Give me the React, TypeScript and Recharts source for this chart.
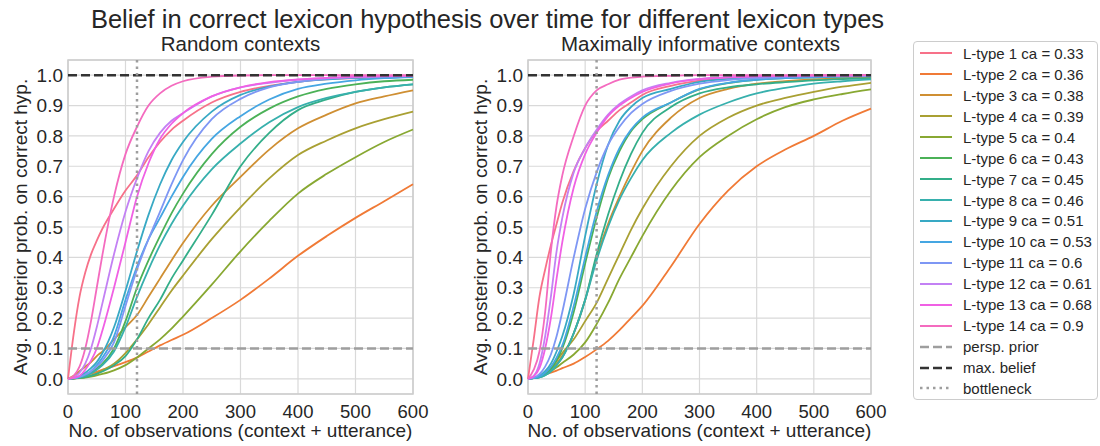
import React from "react";
import {
  LineChart, Line, XAxis, YAxis, CartesianGrid,
  ReferenceLine, ReferenceArea
} from "recharts";

const FONT = '"Liberation Sans", Arial, sans-serif';
const TEXT = "#262626";

// number of observations at which the curves were read
const obsCounts = [0, 10, 20, 30, 40, 50, 60, 80, 100, 120, 140, 160, 180, 200, 250, 300, 350, 400, 450, 500, 550, 600];
const xTicks = [0, 100, 200, 300, 400, 500, 600];
const yTicks = [0, 0.1, 0.2, 0.3, 0.4, 0.5, 0.6, 0.7, 0.8, 0.9, 1.0];

const caValues = ["0.33", "0.36", "0.38", "0.39", "0.4", "0.43", "0.45", "0.46", "0.51", "0.53", "0.6", "0.61", "0.68", "0.9"];
const lineColors = [
  "#f77189", "#f07a36", "#cf8f33", "#a9a033", "#88a832", "#4bb157", "#33ae89",
  "#37b0ad", "#38a9c4", "#45a6e2", "#7e97f4", "#c381f4", "#f060e4", "#f46bbf",
];

const randomCurves = [
  [0, 0.15, 0.27, 0.35, 0.41, 0.455, 0.495, 0.56, 0.62, 0.67, 0.73, 0.78, 0.82, 0.85, 0.91, 0.945, 0.965, 0.978, 0.986, 0.99, 0.993, 0.995],
  [0, 0.003, 0.007, 0.012, 0.017, 0.023, 0.03, 0.042, 0.055, 0.07, 0.09, 0.11, 0.128, 0.145, 0.2, 0.26, 0.33, 0.405, 0.47, 0.53, 0.585, 0.641],
  [0, 0.01, 0.025, 0.04, 0.055, 0.075, 0.09, 0.13, 0.17, 0.21, 0.27, 0.33, 0.39, 0.447, 0.57, 0.665, 0.755, 0.825, 0.87, 0.907, 0.93, 0.95],
  [0, 0.001, 0.003, 0.006, 0.011, 0.018, 0.028, 0.05, 0.085, 0.13, 0.18, 0.235, 0.29, 0.34, 0.46, 0.565, 0.66, 0.737, 0.785, 0.825, 0.855, 0.88],
  [0, 0.001, 0.002, 0.004, 0.007, 0.011, 0.016, 0.028, 0.045, 0.07, 0.1, 0.13, 0.165, 0.205, 0.31, 0.42, 0.52, 0.61, 0.675, 0.73, 0.78, 0.821],
  [0, 0.002, 0.006, 0.012, 0.022, 0.035, 0.05, 0.1, 0.19, 0.3, 0.39, 0.47, 0.545, 0.61, 0.74, 0.83, 0.89, 0.93, 0.955, 0.97, 0.98, 0.985],
  [0, 0.001, 0.003, 0.006, 0.01, 0.016, 0.024, 0.045, 0.075, 0.13, 0.2, 0.26, 0.33, 0.39, 0.54, 0.7, 0.81, 0.885, 0.92, 0.945, 0.96, 0.97],
  [0, 0.002, 0.005, 0.01, 0.018, 0.03, 0.045, 0.09, 0.17, 0.27, 0.36, 0.44, 0.51, 0.57, 0.69, 0.775, 0.845, 0.895, 0.925, 0.945, 0.96, 0.97],
  [0, 0.002, 0.008, 0.02, 0.035, 0.055, 0.085, 0.17, 0.29, 0.42, 0.54, 0.64, 0.72, 0.78, 0.88, 0.935, 0.962, 0.978, 0.986, 0.991, 0.994, 0.996],
  [0, 0.002, 0.006, 0.014, 0.025, 0.045, 0.07, 0.14, 0.26, 0.37, 0.46, 0.53, 0.6, 0.665, 0.79, 0.865, 0.92, 0.955, 0.972, 0.983, 0.99, 0.994],
  [0, 0.002, 0.006, 0.014, 0.025, 0.04, 0.06, 0.12, 0.24, 0.36, 0.46, 0.55, 0.64, 0.72, 0.855, 0.922, 0.96, 0.978, 0.988, 0.993, 0.995, 0.997],
  [0, 0.005, 0.02, 0.05, 0.1, 0.17, 0.25, 0.41, 0.55, 0.66, 0.75, 0.81, 0.85, 0.875, 0.93, 0.96, 0.975, 0.985, 0.99, 0.994, 0.996, 0.997],
  [0, 0.003, 0.01, 0.03, 0.06, 0.1, 0.16, 0.3, 0.45, 0.6, 0.71, 0.79, 0.84, 0.875, 0.93, 0.96, 0.977, 0.986, 0.991, 0.995, 0.997, 0.998],
  [0, 0.01, 0.04, 0.1, 0.19, 0.3, 0.41, 0.6, 0.74, 0.83, 0.9, 0.94, 0.965, 0.98, 0.995, 0.999, 1, 1, 1, 1, 1, 1],
];

const informativeCurves = [
  [0, 0.13, 0.27, 0.36, 0.44, 0.51, 0.58, 0.685, 0.76, 0.815, 0.85, 0.885, 0.91, 0.935, 0.965, 0.982, 0.99, 0.994, 0.996, 0.998, 0.999, 0.999],
  [0, 0.003, 0.008, 0.014, 0.02, 0.027, 0.035, 0.05, 0.072, 0.097, 0.125, 0.16, 0.2, 0.24, 0.37, 0.51, 0.62, 0.7, 0.755, 0.8, 0.85, 0.89],
  [0, 0.003, 0.008, 0.016, 0.03, 0.05, 0.075, 0.15, 0.26, 0.4, 0.51, 0.6, 0.68, 0.75, 0.86, 0.925, 0.955, 0.972, 0.98, 0.986, 0.99, 0.993],
  [0, 0.002, 0.008, 0.02, 0.038, 0.06, 0.085, 0.13, 0.19, 0.25, 0.33, 0.41, 0.49, 0.56, 0.7, 0.8, 0.86, 0.9, 0.925, 0.945, 0.962, 0.975],
  [0, 0.002, 0.006, 0.014, 0.025, 0.038, 0.052, 0.08, 0.12, 0.18, 0.25, 0.33, 0.4, 0.47, 0.62, 0.73, 0.8, 0.855, 0.895, 0.92, 0.938, 0.953],
  [0, 0.002, 0.006, 0.016, 0.033, 0.06, 0.1, 0.22, 0.38, 0.53, 0.66, 0.75, 0.815, 0.855, 0.91, 0.953, 0.974, 0.985, 0.99, 0.993, 0.995, 0.997],
  [0, 0.002, 0.005, 0.012, 0.025, 0.045, 0.07, 0.15, 0.26, 0.41, 0.54, 0.65, 0.74, 0.81, 0.895, 0.94, 0.96, 0.97, 0.977, 0.983, 0.987, 0.99],
  [0, 0.002, 0.005, 0.012, 0.025, 0.045, 0.07, 0.15, 0.26, 0.39, 0.5, 0.59, 0.66, 0.72, 0.81, 0.87, 0.91, 0.94, 0.958, 0.972, 0.98, 0.986],
  [0, 0.003, 0.01, 0.025, 0.05, 0.09, 0.14, 0.28, 0.47, 0.64, 0.77, 0.85, 0.895, 0.925, 0.955, 0.978, 0.988, 0.993, 0.995, 0.997, 0.998, 0.999],
  [0, 0.002, 0.008, 0.02, 0.04, 0.07, 0.11, 0.24, 0.4, 0.55, 0.67, 0.76, 0.82, 0.86, 0.91, 0.955, 0.975, 0.985, 0.99, 0.993, 0.995, 0.997],
  [0, 0.004, 0.015, 0.04, 0.08, 0.14, 0.22, 0.4, 0.56, 0.68, 0.77, 0.83, 0.875, 0.905, 0.948, 0.972, 0.984, 0.99, 0.994, 0.996, 0.997, 0.998],
  [0, 0.01, 0.05, 0.14, 0.27, 0.42, 0.53, 0.68, 0.76, 0.82, 0.87, 0.905, 0.93, 0.95, 0.975, 0.988, 0.993, 0.996, 0.998, 0.999, 0.999, 1],
  [0, 0.008, 0.035, 0.1, 0.2, 0.33, 0.45, 0.63, 0.74, 0.81, 0.865, 0.9, 0.925, 0.945, 0.973, 0.987, 0.993, 0.996, 0.998, 0.999, 0.999, 1],
  [0, 0.03, 0.09, 0.22, 0.42, 0.57, 0.67, 0.8, 0.9, 0.95, 0.97, 0.985, 0.992, 0.995, 0.998, 1, 1, 1, 1, 1, 1, 1],
];

const PRIOR = 0.1;
const MAX_BELIEF = 1.0;
const BOTTLENECK = 120;

const xTickStyle = { fill: TEXT, fontSize: 18.5, fontFamily: FONT };
const yTickStyle = { fill: TEXT, fontSize: 19, fontFamily: FONT };

const Panel = ({ title, curves, left, width }: { title: string; curves: number[][]; left: number; width: number }) => {
  const rows = obsCounts.map((x, i) => {
    const row: Record<string, number> = { x };
    curves.forEach((c, k) => { row[`lt${k + 1}`] = c[i]; });
    return row;
  });

  return (
    <div style={{ position: "absolute", left, top: 0, width, height: 446 }}>
      <LineChart width={width} height={446} data={rows} margin={{ top: 60, right: 0, bottom: 0, left: 0 }}>
        <CartesianGrid yAxisId="left" stroke="#d9d9d9" strokeWidth={1.2} />
        <XAxis
          type="number" dataKey="x" domain={[0, 600]} ticks={xTicks} height={52}
          axisLine={false} tickLine={false} tickSize={0} tickMargin={11} tick={xTickStyle}
          label={{ value: "No. of observations (context + utterance)", position: "insideBottom", offset: 9,
            style: { fill: TEXT, fontSize: 19, fontFamily: FONT } }}
        />
        <YAxis
          yAxisId="left" domain={[-0.05, 1.05]} ticks={yTicks} width={68}
          axisLine={false} tickLine={false} tickSize={0} tickMargin={5} tick={yTickStyle}
          tickFormatter={(v: number) => v.toFixed(1)}
          label={{ value: "Avg. posterior prob. on correct hyp.", angle: -90, position: "center", dx: -14,
            style: { fill: TEXT, fontSize: 19, fontFamily: FONT } }}
        />
        <YAxis
          yAxisId="right" orientation="right" domain={[-0.05, 1.05]} ticks={yTicks} width={45}
          axisLine={false} tickLine={false} tickSize={0} tickMargin={9} tick={yTickStyle}
          tickFormatter={(v: number) => v.toFixed(1)}
        />
        <ReferenceArea yAxisId="left" x1={0} x2={600} y1={-0.05} y2={1.05} fill="none" fillOpacity={0} stroke="#cccccc" strokeWidth={1.5} />
        {curves.map((_, k) => (
          <Line
            key={k}
            yAxisId="left"
            type="monotone"
            dataKey={`lt${k + 1}`}
            stroke={lineColors[k]}
            strokeWidth={1.8}
            dot={false}
            isAnimationActive={false}
          />
        ))}
        <ReferenceLine yAxisId="left" y={PRIOR} stroke="#9e9e9e" strokeWidth={2.5} strokeDasharray="9 4" />
        <ReferenceLine yAxisId="left" y={MAX_BELIEF} stroke="#333333" strokeWidth={2.5} strokeDasharray="9 4" />
        <ReferenceLine yAxisId="left" x={BOTTLENECK} stroke="#9e9e9e" strokeWidth={2.5} strokeDasharray="2.5 4" />
      </LineChart>
      <div style={{
        position: "absolute", left: 240.5, top: 34.3, transform: "translateX(-50%)", whiteSpace: "nowrap",
        fontSize: 20.5, lineHeight: "20.5px", fontFamily: FONT, color: TEXT,
      }}>{title}</div>
    </div>
  );
};

const legendExtras = [
  { label: "persp. prior", color: "#9e9e9e", dash: "9 4" },
  { label: "max. belief", color: "#333333", dash: "9 4" },
  { label: "bottleneck", color: "#9e9e9e", dash: "2.5 4" },
];

const LegendBox = () => {
  const items = [
    ...caValues.map((ca, k) => ({ label: `L-type ${k + 1} ca = ${ca}`, color: lineColors[k], dash: undefined as string | undefined, w: 2 })),
    ...legendExtras.map((e) => ({ ...e, w: 2.5 })),
  ];
  return (
    <div style={{
      position: "absolute", left: 913, top: 41, width: 185, height: 359, boxSizing: "border-box",
      border: "1px solid #cccccc", borderRadius: 4, background: "#fff", paddingTop: 1,
      fontFamily: FONT, fontSize: 15, color: TEXT,
    }}>
      {items.map((it, i) => (
        <div key={i} style={{ height: 20.94, display: "flex", alignItems: "center" }}>
          <svg width={49} height={10} style={{ flex: "none" }}>
            <line x1={6} x2={38} y1={5} y2={5} stroke={it.color} strokeWidth={it.w} strokeDasharray={it.dash} />
          </svg>
          <span style={{ whiteSpace: "nowrap" }}>{it.label}</span>
        </div>
      ))}
    </div>
  );
};

export default function App() {
  return (
    <div style={{ position: "absolute", left: 0, top: 0, width: 1100, height: 446, background: "#fff", overflow: "hidden" }}>
      <div style={{
        position: "absolute", left: 487.5, top: 6.7, transform: "translateX(-50%)", whiteSpace: "nowrap",
        fontSize: 25.5, lineHeight: "25.5px", fontFamily: FONT, color: TEXT,
      }}>
        Belief in correct lexicon hypothesis over time for different lexicon types
      </div>
      <Panel title="Random contexts" curves={randomCurves} left={0} width={458} />
      <Panel title="Maximally informative contexts" curves={informativeCurves} left={460} width={456} />
      <LegendBox />
    </div>
  );
}
